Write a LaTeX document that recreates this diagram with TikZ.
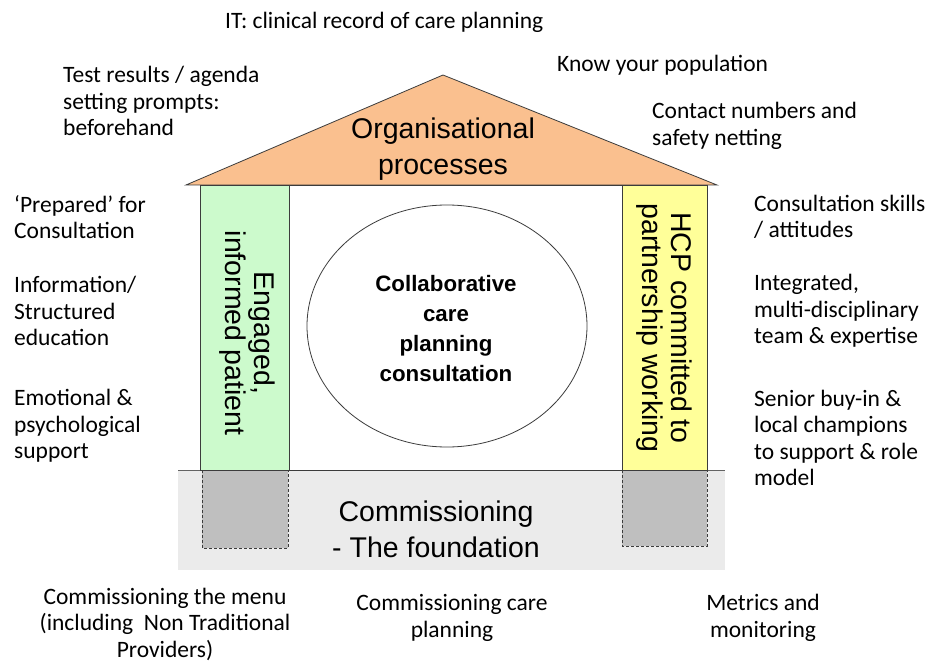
\documentclass[tikz,border=0pt]{standalone}
\usepackage{fontspec}
\setmainfont{Carlito}
\newfontfamily\arialf{Liberation Sans}
\definecolor{roofc}{RGB}{250,192,143}
\definecolor{greenc}{RGB}{204,250,204}
\definecolor{yellowc}{RGB}{255,255,153}
\definecolor{foundc}{RGB}{235,235,235}
\definecolor{greyc}{RGB}{191,191,191}
\definecolor{linec}{RGB}{60,60,60}
\begin{document}
\begin{tikzpicture}[x=1pt,y=-1pt,
  note/.style={font=\fontsize{23.5}{26.5}\selectfont, inner sep=0pt, align=left, anchor=west},
  notec/.style={font=\fontsize{23.5}{26.5}\selectfont, inner sep=0pt, align=center},
  housetxt/.style={font=\arialf\fontsize{28.5}{36}\selectfont, inner sep=0pt, align=center},
  pillartxt/.style={font=\arialf\fontsize{28.5}{29}\selectfont, inner sep=0pt, align=center, rotate=-90},
  centretxt/.style={font=\arialf\bfseries\fontsize{22.3}{30}\selectfont, inner sep=0pt, align=center},
  thinline/.style={draw=linec, line width=0.8pt},
  footbox/.style={fill=greyc, draw=linec, dash pattern=on 3pt off 2pt, line width=0.8pt}
]
\useasboundingbox (0,0) rectangle (932,663);
\fill[white] (0,0) rectangle (932,663);

% foundation
\fill[foundc] (178,470) rectangle (725,570);
\path[footbox] (202,470) rectangle (288,548);
\path[footbox] (622,470) rectangle (707,546);
\draw[thinline, draw=linec!80] (178,470) -- (725,470);

% house body
\draw[thinline, fill=white] (200,185) rectangle (707,470);
\draw[thinline, fill=greenc] (200,185) rectangle (289,470);
\draw[thinline, fill=yellowc] (622,185) rectangle (707,470);

% roof
\draw[thinline, fill=roofc, line join=miter] (186,185) -- (443,75) -- (717,185) -- cycle;

% ellipse
\draw[thinline] (447,326) ellipse [x radius=140, y radius=121];

% labels in house
\node[housetxt] (roof) at (443,149) {Organisational\\processes};
\node[housetxt] (found) at (436,529) {Commissioning\\- The foundation};
\node[pillartxt] (patient) at (247,333) {Engaged,\\informed patient};
\node[pillartxt] (hcp) at (664,328) {HCP committed to\\partnership working};
\node[centretxt] (centre) at (446,329) {Collaborative\\care\\planning\\consultation};

% annotations
\node[note] (it) at (225,22) {IT: clinical record of care planning};
\node[note] (test) at (63,101) {Test results / agenda\\setting prompts:\\beforehand};
\node[note] (know) at (557,65) {Know your population};
\node[note] (contact) at (652,126) {Contact numbers and\\safety netting};
\node[note] (prep) at (14,217) {‘Prepared’ for\\Consultation};
\node[note] (info) at (14,311) {Information/\\Structured\\education};
\node[note] (emo) at (14,426) {Emotional \&\\psychological\\support};
\node[note] (skills) at (754,217) {Consultation skills\\/ attitudes};
\node[note] (integ) at (754,311) {Integrated,\\multi-disciplinary\\team \& expertise};
\node[note] (senior) at (754,438) {Senior buy-in \&\\local champions\\to support \& role\\model};
\node[notec] (menu) at (165,624) {Commissioning the menu\\(including\ \ Non Traditional\\Providers)};
\node[notec] (ccp) at (452,618) {Commissioning care\\planning};
\node[notec] (metrics) at (763,618) {Metrics and\\monitoring};
\end{tikzpicture}
\end{document}
